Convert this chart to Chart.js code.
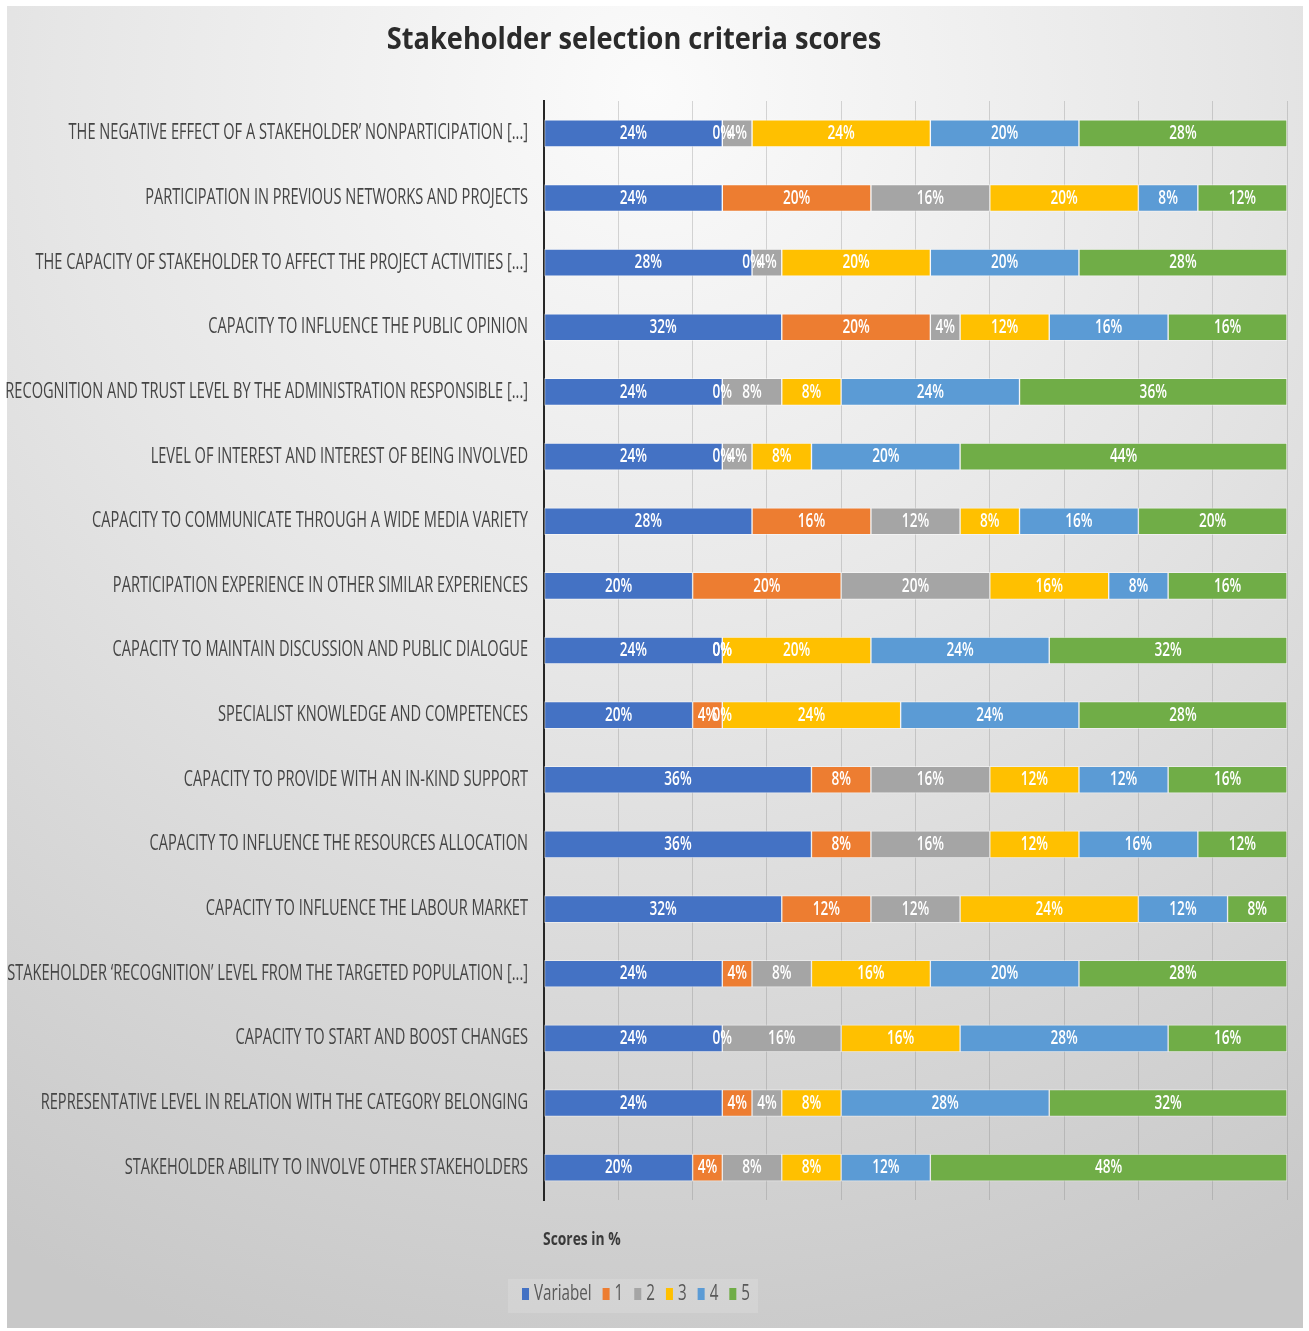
<!DOCTYPE html>
<html>
<head>
<meta charset="utf-8">
<script src="https://cdn.jsdelivr.net/npm/chart.js@4.4.1/dist/chart.umd.min.js"></script>
<style>
  html, body { margin: 0; padding: 0; background: #fff; }
  canvas { display: block; }
</style>
</head>
<body>
<canvas id="canvas" width="1309" height="1331"></canvas>
<script>
const criteria = [
  "THE NEGATIVE EFFECT OF A STAKEHOLDER’ NONPARTICIPATION [...]",
  "PARTICIPATION IN PREVIOUS NETWORKS AND PROJECTS",
  "THE CAPACITY OF STAKEHOLDER TO AFFECT THE PROJECT ACTIVITIES [...]",
  "CAPACITY TO INFLUENCE THE PUBLIC OPINION",
  "RECOGNITION AND TRUST LEVEL BY THE ADMINISTRATION RESPONSIBLE [...]",
  "LEVEL OF INTEREST AND INTEREST OF BEING INVOLVED",
  "CAPACITY TO COMMUNICATE THROUGH A WIDE MEDIA VARIETY",
  "PARTICIPATION EXPERIENCE IN OTHER SIMILAR EXPERIENCES",
  "CAPACITY TO MAINTAIN DISCUSSION AND PUBLIC DIALOGUE",
  "SPECIALIST KNOWLEDGE AND COMPETENCES",
  "CAPACITY TO PROVIDE WITH AN IN-KIND SUPPORT",
  "CAPACITY TO INFLUENCE THE RESOURCES ALLOCATION",
  "CAPACITY TO INFLUENCE THE LABOUR MARKET",
  "STAKEHOLDER ‘RECOGNITION’ LEVEL FROM THE TARGETED POPULATION [...]",
  "CAPACITY TO START AND BOOST CHANGES",
  "REPRESENTATIVE LEVEL IN RELATION WITH THE CATEGORY BELONGING",
  "STAKEHOLDER ABILITY TO INVOLVE OTHER STAKEHOLDERS"
];

const variabel = [24, 24, 28, 32, 24, 24, 28, 20, 24, 20, 36, 36, 32, 24, 24, 24, 20];
const score1   = [0, 20, 0, 20, 0, 0, 16, 20, 0, 4, 8, 8, 12, 4, 0, 4, 4];
const score2   = [4, 16, 4, 4, 8, 4, 12, 20, 0, 0, 16, 16, 12, 8, 16, 4, 8];
const score3   = [24, 20, 20, 12, 8, 8, 8, 16, 20, 24, 12, 12, 24, 16, 16, 8, 8];
const score4   = [20, 8, 20, 16, 24, 20, 16, 8, 24, 24, 12, 16, 12, 20, 28, 28, 12];
const score5   = [28, 12, 28, 16, 36, 44, 20, 16, 32, 28, 16, 12, 8, 28, 16, 32, 48];

const seriesNames = ["Variabel", "1", "2", "3", "4", "5"];
const seriesColors = ["#4472C4", "#ED7D31", "#A5A5A5", "#FFC000", "#5B9BD5", "#70AD47"];
const seriesValues = [variabel, score1, score2, score3, score4, score5];

const chartTitle = "Stakeholder selection criteria scores";
const axisTitle = "Scores in %";

const FONT = "'Open Sans', 'Liberation Sans', sans-serif";

// narrow text: draw with a horizontal squeeze
function narrowText(ctx, text, x, y, sx, align) {
  ctx.save();
  ctx.translate(x, y);
  ctx.scale(sx, 1);
  ctx.textAlign = align;
  ctx.fillText(text, 0, 0);
  ctx.restore();
}

const backdrop = {
  id: 'backdrop',
  beforeDraw(chart) {
    const ctx = chart.ctx;
    ctx.save();
    ctx.fillStyle = '#ffffff';
    ctx.fillRect(0, 0, chart.width, chart.height);
    const g = ctx.createRadialGradient(650, 90, 0, 650, 90, 1320);
    g.addColorStop(0, '#fbfbfb');
    g.addColorStop(0.45, '#e6e6e6');
    g.addColorStop(1, '#c8c8c8');
    ctx.fillStyle = g;
    ctx.fillRect(7, 6, 1296, 1322);
    // legend panel
    ctx.fillStyle = 'rgba(255,255,255,0.14)';
    ctx.fillRect(508, 1279, 250, 34);
    ctx.restore();
  }
};

const textLayer = {
  id: 'textLayer',
  afterDraw(chart) {
    const ctx = chart.ctx;
    const yScale = chart.scales.y;
    ctx.save();

    // title
    ctx.fillStyle = '#2b2b2b';
    ctx.font = `bold 31px ${FONT}`;
    ctx.textBaseline = 'alphabetic';
    narrowText(ctx, chartTitle, 634, 49, 0.877, 'center');

    // category labels
    ctx.fillStyle = '#454545';
    ctx.font = `21px ${FONT}`;
    ctx.textBaseline = 'middle';
    criteria.forEach((c, i) => {
      narrowText(ctx, c, 528, yScale.getPixelForValue(i), 0.695, 'right');
    });

    // segment values
    ctx.fillStyle = '#ffffff';
    ctx.font = `600 20px ${FONT}`;
    chart.data.datasets.forEach((ds, di) => {
      const meta = chart.getDatasetMeta(di);
      meta.data.forEach((bar, j) => {
        const cx = (bar.x + bar.base) / 2;
        narrowText(ctx, ds.data[j] + '%', cx, bar.y, 0.68, 'center');
      });
    });

    // axis title
    ctx.fillStyle = '#3a3a3a';
    ctx.font = `bold 18px ${FONT}`;
    narrowText(ctx, axisTitle, 543, 1240, 0.77, 'left');

    // legend
    ctx.font = `22px ${FONT}`;
    let lx = 522;
    const ly = 1294;
    seriesNames.forEach((name, i) => {
      ctx.fillStyle = seriesColors[i];
      ctx.fillRect(lx, ly - 6, 7, 12);
      lx += 12;
      ctx.fillStyle = '#595959';
      narrowText(ctx, name, lx, ly, 0.69, 'left');
      lx += ctx.measureText(name).width * 0.69 + 11;
    });

    ctx.restore();
  }
};

new Chart(document.getElementById('canvas').getContext('2d'), {
  type: 'bar',
  data: {
    labels: criteria,
    datasets: seriesNames.map((name, i) => ({
      label: name,
      data: seriesValues[i],
      backgroundColor: seriesColors[i],
      borderColor: 'rgba(255,255,255,0.45)',
      borderWidth: 1,
      borderSkipped: false,
      barThickness: 27
    }))
  },
  options: {
    indexAxis: 'y',
    responsive: false,
    animation: false,
    layout: { padding: { left: 544, right: 22, top: 101, bottom: 131 } },
    plugins: {
      legend: { display: false },
      title: { display: false },
      tooltip: { enabled: false }
    },
    scales: {
      x: {
        stacked: true,
        min: 0,
        max: 100,
        ticks: { display: false, stepSize: 10 },
        grid: { color: 'rgba(120,120,120,0.28)', lineWidth: 1, drawTicks: false },
        border: { display: false },
        afterFit(scale) { scale.height = 0; }
      },
      y: {
        stacked: true,
        ticks: { display: false },
        grid: { display: false, drawTicks: false },
        border: { display: true, color: '#262626', width: 2 },
        afterFit(scale) { scale.width = 0; }
      }
    }
  },
  plugins: [backdrop, textLayer]
});
</script>
</body>
</html>
